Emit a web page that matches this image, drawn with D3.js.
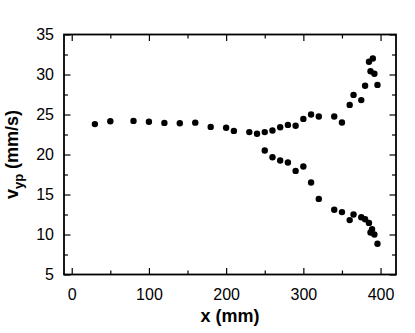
<!DOCTYPE html>
<html>
<head>
<meta charset="utf-8">
<script src="https://cdn.jsdelivr.net/npm/d3@7"></script>
<style>
	body { margin: 0; background: #fff; }
	text { font-family: "Liberation Sans", Arial, sans-serif; }
</style>
</head>
<body>
<svg id="chart"></svg>
<script>
'use strict'

// upper branch (and the single branch before it splits)
var xUpper = [30, 50, 80, 100, 120, 140, 160, 180, 200, 210, 230, 240, 250, 260, 270, 280, 290, 300, 310, 320, 340, 350, 360, 365, 375, 380, 387, 392, 385, 390, 396];
var vUpper = [23.8, 24.15, 24.2, 24.1, 23.95, 23.9, 23.98, 23.45, 23.35, 22.95, 22.8, 22.6, 22.8, 23.0, 23.4, 23.7, 23.6, 24.45, 25.0, 24.75, 24.75, 24.0, 26.2, 27.45, 26.8, 28.6, 30.4, 30.1, 31.6, 32.0, 28.7];

// lower branch
var xLower = [250, 260, 270, 280, 290, 300, 310, 320, 340, 350, 360, 365, 375, 380, 385, 389, 387, 392, 396];
var vLower = [20.5, 19.65, 19.25, 19.0, 17.95, 18.5, 16.5, 14.45, 13.1, 12.8, 11.8, 12.5, 12.15, 11.9, 11.45, 10.65, 10.25, 10.0, 8.85];

var xTicks = [0, 100, 200, 300, 400];
var yTicks = [5, 10, 15, 20, 25, 30, 35];

var WIDTH = 415,
	HEIGHT = 333;

var pLeft = 64, pRight = 396, pTop = 34.5, pBottom = 274.5;

var svg = d3.select("#chart")
	.attr("width", WIDTH)
	.attr("height", HEIGHT);

var x = d3.scaleLinear().domain([-10, 420]).range([pLeft, pRight]);
var y = d3.scaleLinear().domain([5, 35]).range([pBottom, pTop]);

var xMinor = d3.range(0, 420, 50).filter(function (d) { return d % 100 != 0; });
var yMinor = d3.range(7.5, 35, 5);

// bottom axis with labels
var gBottom = svg.append("g").attr("transform", "translate(0," + pBottom + ")");
gBottom.call(d3.axisBottom(x).tickValues(xTicks).tickSizeInner(-6.5).tickSizeOuter(0).tickPadding(14));
gBottom.append("g").call(d3.axisBottom(x).tickValues(xMinor).tickSizeInner(-4).tickSizeOuter(0).tickFormat(""));

// top axis, ticks only
var gTop = svg.append("g").attr("transform", "translate(0," + pTop + ")");
gTop.call(d3.axisTop(x).tickValues(xTicks).tickSizeInner(-6.5).tickSizeOuter(0).tickFormat(""));
gTop.append("g").call(d3.axisTop(x).tickValues(xMinor).tickSizeInner(-4).tickSizeOuter(0).tickFormat(""));

// left axis with labels
var gLeft = svg.append("g").attr("transform", "translate(" + pLeft + ",0)");
gLeft.call(d3.axisLeft(y).tickValues(yTicks).tickSizeInner(-6.5).tickSizeOuter(0).tickPadding(10));
gLeft.append("g").call(d3.axisLeft(y).tickValues(yMinor).tickSizeInner(-4).tickSizeOuter(0).tickFormat(""));

// right axis, ticks only
var gRight = svg.append("g").attr("transform", "translate(" + pRight + ",0)");
gRight.call(d3.axisRight(y).tickValues(yTicks).tickSizeInner(-6.5).tickSizeOuter(0).tickFormat(""));
gRight.append("g").call(d3.axisRight(y).tickValues(yMinor).tickSizeInner(-4).tickSizeOuter(0).tickFormat(""));

svg.selectAll(".domain").remove();
svg.selectAll(".tick line").attr("stroke", "#000").attr("stroke-width", 1.2);
svg.selectAll(".tick text")
	.style("font-size", "16px")
	.style("font-family", "'Liberation Sans', Arial, sans-serif")
	.attr("fill", "#000");

// frame
svg.append("rect")
	.attr("x", pLeft)
	.attr("y", pTop)
	.attr("width", pRight - pLeft)
	.attr("height", pBottom - pTop)
	.attr("fill", "none")
	.attr("stroke", "#000")
	.attr("stroke-width", 1.8);

// points
var pts = xUpper.map(function (d, i) { return [d, vUpper[i]]; })
	.concat(xLower.map(function (d, i) { return [d, vLower[i]]; }));

svg.append("g").selectAll("circle")
	.data(pts)
	.enter().append("circle")
	.attr("cx", function (d) { return x(d[0]); })
	.attr("cy", function (d) { return y(d[1]); })
	.attr("r", 3.2)
	.attr("fill", "#000");

// axis titles
svg.append("text")
	.attr("x", (pLeft + pRight) / 2)
	.attr("y", 322)
	.attr("text-anchor", "middle")
	.style("font-size", "18px")
	.style("font-weight", "bold")
	.text("x (mm)");

var yt = svg.append("text")
	.attr("transform", "translate(18," + ((pTop + pBottom) / 2) + ") rotate(-90)")
	.attr("text-anchor", "middle")
	.style("font-size", "18px")
	.style("font-weight", "bold");
yt.append("tspan").text("v");
yt.append("tspan").attr("dy", 5).style("font-size", "13px").text("yp");
yt.append("tspan").attr("dy", -5).text(" (mm/s)");
</script>
</body>
</html>
